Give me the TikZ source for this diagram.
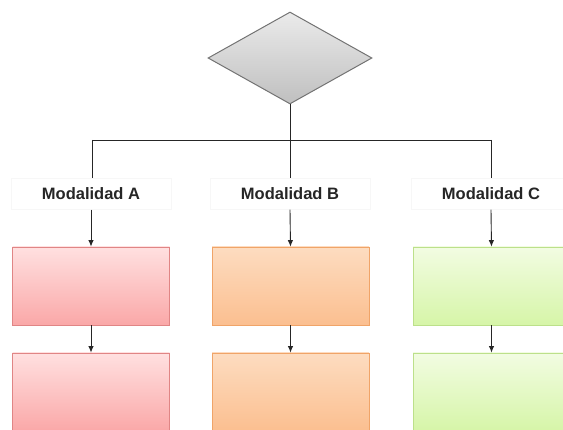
\documentclass[tikz,border=0pt]{standalone}
\usepackage{fontspec}
\setmainfont{Liberation Sans}
\usetikzlibrary{shapes.geometric,arrows.meta}
\definecolor{redtop}{HTML}{FFE0E0}
\definecolor{redbot}{HTML}{FAA8A8}
\definecolor{redline}{HTML}{E08585}
\definecolor{ortop}{HTML}{FDDCC0}
\definecolor{orbot}{HTML}{FBBF90}
\definecolor{orline}{HTML}{F0A468}
\definecolor{grtop}{HTML}{F2FCE2}
\definecolor{grbot}{HTML}{D6F5A8}
\definecolor{grline}{HTML}{BCE08A}
\definecolor{lblline}{HTML}{F7F7F7}
\tikzset{
  conn/.style={draw=black!85, line width=0.9pt},
  arr/.style={conn, -{Latex[length=6.5pt,width=5.5pt]}},
  boxbase/.style={rectangle, minimum width=157pt, minimum height=78pt, line width=0.8pt, inner sep=0pt},
  redbox/.style={boxbase, draw=redline, top color=redtop, bottom color=redbot},
  orbox/.style={boxbase, draw=orline, top color=ortop, bottom color=orbot},
  grbox/.style={boxbase, draw=grline, top color=grtop, bottom color=grbot},
  lbl/.style={rectangle, draw=lblline, minimum width=160pt, minimum height=31pt, inner sep=0pt,
    font=\fontsize{16.5}{18}\selectfont\bfseries, text=black!85},
  dia/.style={diamond, aspect=1.78, minimum width=164pt, minimum height=92pt, inner sep=0pt,
    draw=black!55, line width=1pt, top color=black!8, bottom color=black!25},
}
\begin{document}
\begin{tikzpicture}[x=1pt,y=-1pt]
\useasboundingbox (0,0) rectangle (563,430);
\clip (0,0) rectangle (563,430);
\node[dia] (d) at (290,58) {};
\coordinate (j) at (290,140);
\coordinate (ja) at (92,140);
\coordinate (jc) at (491,140);
\node[lbl] (la) at (91,194) {Modalidad A};
\node[lbl] (lb) at (290,194) {Modalidad B};
\node[lbl] (lc) at (491,194) {Modalidad C};
\node[redbox] (a1) at (91,286) {};
\node[redbox] (a2) at (91,392) {};
\node[orbox] (b1) at (290.5,286) {};
\node[orbox] (b2) at (290.5,392) {};
\node[grbox] (c1) at (491.5,286) {};
\node[grbox] (c2) at (491.5,392) {};
\draw[conn] (d.south) -- (j);
\draw[conn] (ja) -- (jc);
\draw[conn] (ja) -- (la.north -| ja);
\draw[conn] (j) -- (lb.north);
\draw[conn] (jc) -- (lc.north -| jc);
\draw[arr] (la.south) -- (a1.north);
\draw[arr] (lb.south) -- (b1.north);
\draw[arr] (lc.south) -- (c1.north);
\draw[arr] (a1.south) -- (a2.north);
\draw[arr] (b1.south) -- (b2.north);
\draw[arr] (c1.south) -- (c2.north);
\end{tikzpicture}
\end{document}
